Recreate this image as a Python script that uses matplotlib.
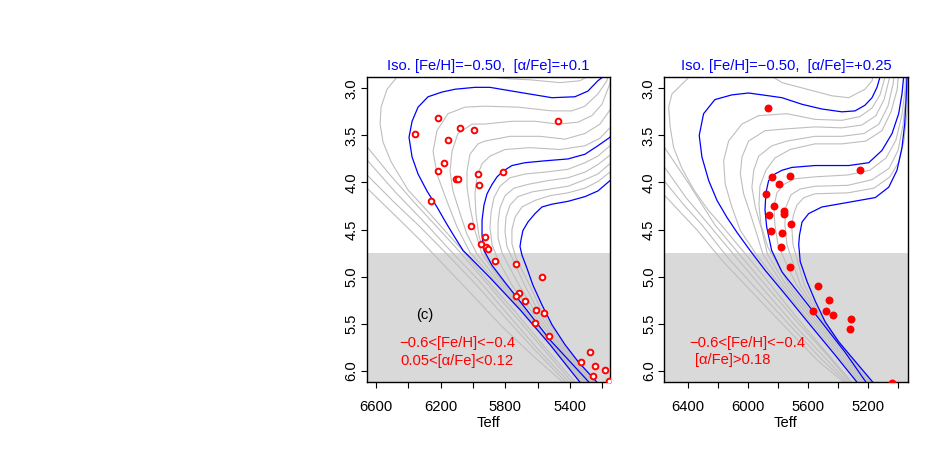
import matplotlib.pyplot as plt

plt.rcParams['font.family'] = ['Liberation Sans', 'DejaVu Sans']

# ---------------- LEFT PANEL: isochrones [alpha/Fe]=+0.1 ----------------
# blue isochrones (Teff, logg)
lb1_teff = [5183, 5196, 5227, 5289, 5369, 5511, 5722, 5895, 5988, 6111, 6192, 6278, 6340, 6377,
            6396, 6377, 6340, 6285, 6223, 6173, 6124, 6062, 5895, 5709, 5524, 5338, 5276]
lb1_logg = [2.75, 2.88, 2.92, 3.03, 3.09, 3.10, 3.04, 2.99, 2.99, 3.01, 3.04, 3.09, 3.20, 3.35,
            3.52, 3.73, 3.91, 4.09, 4.26, 4.41, 4.55, 4.72, 5.01, 5.35, 5.72, 6.12, 6.24]
lb2_teff = [5121, 5152, 5227, 5307, 5412, 5555, 5678, 5759, 5814, 5851, 5882, 5913, 5932, 5944,
            5944, 5932, 5882, 5802, 5678, 5524, 5400, 5282, 5227]
lb2_logg = [3.39, 3.52, 3.61, 3.70, 3.75, 3.77, 3.79, 3.82, 3.88, 3.94, 4.02, 4.12, 4.24, 4.40,
            4.56, 4.72, 4.88, 5.06, 5.33, 5.67, 5.90, 6.12, 6.24]
lb3_teff = [5121, 5152, 5227, 5307, 5412, 5511, 5573, 5616, 5660, 5691, 5703, 5709, 5697, 5666,
            5629, 5573, 5511, 5431, 5350, 5233, 5171]
lb3_logg = [3.96, 3.98, 4.09, 4.15, 4.20, 4.23, 4.26, 4.33, 4.42, 4.51, 4.61, 4.68, 4.77, 4.91,
            5.09, 5.30, 5.51, 5.72, 5.90, 6.12, 6.24]

# grey isochrones
lg_teff = [
    [5214, 5264, 5338, 5462, 5647, 5771, 5895, 6019, 6204, 6359, 6470, 6532, 6569, 6575, 6557,
     6507, 6402, 6278, 6180, 6080, 5926, 5740, 5555, 5369, 5307],
    [6730, 6656, 6513, 6359, 6235, 6111, 5944, 5759, 5573, 5388, 5326],
    [6761, 6656, 6482, 6285, 6142, 5969, 5784, 5598, 5406, 5344],
    [6792, 6656, 6482, 6340, 6173, 5988, 5802, 5616, 5425, 5363],
    [6823, 6656, 6482, 6328, 6173, 6006, 5820, 5629, 5443, 5381],
    [5152, 5165, 5171, 5227, 5307, 5388, 5511, 5722, 5926, 6049, 6155, 6223, 6247, 6223, 6161,
     6099, 6019, 5840, 5676, 5505, 5327, 5265],
    [5140, 5152, 5202, 5264, 5350, 5474, 5616, 5759, 5926, 6006, 6093, 6130, 6142, 6124, 6080,
     6037, 5975, 5825, 5668, 5498, 5315, 5253],
    [5121, 5152, 5214, 5307, 5431, 5585, 5771, 5926, 5969, 6019, 6037, 6037, 6019, 5988, 5944,
     5810, 5660, 5492, 5303, 5241],
    [5121, 5152, 5214, 5307, 5462, 5647, 5802, 5895, 5944, 5975, 5988, 5982, 5963, 5920, 5798,
     5652, 5486, 5292, 5230],
    [5121, 5152, 5227, 5307, 5412, 5555, 5678, 5771, 5833, 5870, 5888, 5895, 5882, 5845, 5759,
     5625, 5468, 5272, 5210],
    [5121, 5152, 5227, 5307, 5412, 5536, 5660, 5746, 5802, 5833, 5845, 5845, 5820, 5715, 5605,
     5455, 5262, 5200],
    [5121, 5152, 5227, 5307, 5412, 5524, 5635, 5722, 5771, 5796, 5802, 5790, 5680, 5585, 5443,
     5252, 5190],
    [5121, 5152, 5227, 5307, 5412, 5524, 5616, 5697, 5740, 5759, 5759, 5734, 5650, 5565, 5430,
     5242, 5180],
]
lg_logg = [
    [2.70, 2.85, 2.92, 2.94, 2.91, 2.90, 2.88, 2.81, 2.74, 2.76, 2.88, 3.01, 3.20, 3.38, 3.57,
     3.78, 4.08, 4.31, 4.50, 4.69, 5.01, 5.37, 5.75, 6.12, 6.24],
    [3.44, 3.62, 3.92, 4.22, 4.45, 4.68, 5.01, 5.38, 5.75, 6.12, 6.24],
    [3.55, 3.76, 4.10, 4.45, 4.72, 5.03, 5.40, 5.77, 6.12, 6.24],
    [3.65, 3.92, 4.22, 4.45, 4.74, 5.07, 5.43, 5.78, 6.12, 6.24],
    [3.76, 4.06, 4.35, 4.61, 4.89, 5.19, 5.53, 5.84, 6.12, 6.24],
    [2.72, 2.85, 2.92, 3.06, 3.19, 3.24, 3.24, 3.20, 3.19, 3.20, 3.27, 3.45, 3.67, 3.91, 4.20,
     4.47, 4.74, 5.09, 5.40, 5.75, 6.12, 6.24],
    [2.81, 2.95, 3.17, 3.29, 3.36, 3.38, 3.35, 3.35, 3.38, 3.38, 3.48, 3.67, 3.88, 4.09, 4.33,
     4.55, 4.76, 5.09, 5.40, 5.75, 6.12, 6.24],
    [3.13, 3.23, 3.38, 3.48, 3.54, 3.51, 3.51, 3.56, 3.59, 3.70, 3.88, 4.05, 4.26, 4.51, 4.76,
     5.09, 5.40, 5.75, 6.12, 6.24],
    [3.32, 3.42, 3.53, 3.61, 3.65, 3.63, 3.65, 3.72, 3.80, 3.94, 4.12, 4.33, 4.57, 4.79, 5.09,
     5.40, 5.75, 6.12, 6.24],
    [3.50, 3.61, 3.72, 3.79, 3.86, 3.89, 3.91, 3.95, 4.04, 4.16, 4.31, 4.48, 4.66, 4.82, 5.09,
     5.40, 5.75, 6.12, 6.24],
    [3.61, 3.71, 3.81, 3.89, 3.95, 3.98, 4.02, 4.06, 4.14, 4.27, 4.42, 4.59, 4.75, 5.09, 5.40,
     5.75, 6.12, 6.24],
    [3.71, 3.80, 3.91, 3.97, 4.04, 4.07, 4.10, 4.15, 4.24, 4.37, 4.52, 4.68, 5.09, 5.40, 5.75,
     6.12, 6.24],
    [3.82, 3.89, 3.99, 4.06, 4.11, 4.14, 4.19, 4.26, 4.37, 4.50, 4.65, 4.80, 5.09, 5.40, 5.75,
     6.12, 6.24],
]

# stars, left panel (open circles)
left_star_teff = [6357, 6216, 6080, 5991, 5472, 6155, 6179, 6218, 6107, 6093, 5970, 5814, 5962,
                  6258, 6012, 5926, 5950, 5920, 5904, 5866, 5736, 5572, 5717, 5735, 5678, 5612,
                  5562, 5618, 5528, 5276, 5329, 5244, 5256, 5185, 5160]
left_star_logg = [3.49, 3.32, 3.42, 3.44, 3.35, 3.55, 3.79, 3.88, 3.96, 3.96, 3.91, 3.89, 4.03,
                  4.20, 4.46, 4.58, 4.65, 4.69, 4.71, 4.83, 4.87, 5.00, 5.17, 5.20, 5.26, 5.35,
                  5.39, 5.49, 5.63, 5.80, 5.91, 5.95, 6.05, 5.99, 6.11]

# ---------------- RIGHT PANEL: isochrones [alpha/Fe]=+0.25 ----------------
rb1_teff = [5089, 5122, 5142, 5175, 5222, 5288, 5375, 5508, 5640, 5773, 5860, 5995, 6106, 6219,
            6294, 6323, 6305, 6260, 6205, 6139, 6072, 5986, 5886, 5740, 5587, 5421, 5275, 5209]
rb1_logg = [2.70, 2.88, 2.99, 3.10, 3.18, 3.24, 3.25, 3.22, 3.17, 3.10, 3.08, 3.05, 3.07, 3.12,
            3.27, 3.50, 3.73, 3.98, 4.19, 4.37, 4.53, 4.72, 4.93, 5.21, 5.51, 5.83, 6.12, 6.24]
rb2_teff = [4956, 4965, 4976, 4998, 5042, 5109, 5197, 5330, 5554, 5707, 5773, 5820, 5862, 5880,
            5886, 5875, 5842, 5773, 5654, 5521, 5355, 5215, 5149]
rb2_logg = [2.70, 2.88, 3.06, 3.27, 3.48, 3.66, 3.79, 3.82, 3.82, 3.84, 3.87, 3.91, 3.98, 4.11,
            4.29, 4.47, 4.72, 4.95, 5.19, 5.46, 5.80, 6.12, 6.24]
rb3_teff = [4936, 4942, 4949, 4958, 4976, 5009, 5064, 5153, 5330, 5508, 5596, 5640, 5657, 5662,
            5652, 5607, 5552, 5486, 5397, 5286, 5175, 5109]
rb3_logg = [2.70, 2.85, 3.13, 3.38, 3.63, 3.87, 4.05, 4.16, 4.21, 4.26, 4.33, 4.42, 4.56, 4.66,
            4.84, 5.05, 5.26, 5.48, 5.69, 5.90, 6.11, 6.24]

rg_teff = [
    [5150, 5175, 5222, 5330, 5441, 5773, 5853, 5986, 6185, 6383, 6504, 6526, 6516, 6493, 6438,
     6358, 6265, 6172, 6052, 5886, 5687, 5481, 5308, 5242],
    [6651, 6557, 6385, 6219, 6052, 5866, 5667, 5468, 5321, 5255],
    [6684, 6557, 6411, 6258, 6086, 5893, 5687, 5488, 5335, 5268],
    [6717, 6557, 6424, 6305, 6132, 5920, 5707, 5508, 5348, 5282],
    [6750, 6557, 6440, 6340, 6170, 5950, 5730, 5530, 5362, 5296],
    [5069, 5089, 5122, 5175, 5255, 5375, 5554, 5740, 5928, 6039, 6128, 6161, 6150, 6106, 6050,
     5945, 5785, 5600, 5420, 5263, 5200],
    [5042, 5062, 5095, 5149, 5242, 5375, 5554, 5740, 5886, 5995, 6039, 6050, 6028, 5984, 5940,
     5900, 5765, 5580, 5403, 5251, 5188],
    [5016, 5036, 5069, 5129, 5228, 5375, 5554, 5740, 5840, 5928, 5961, 5973, 5951, 5906, 5870,
     5745, 5562, 5387, 5239, 5176],
    [4989, 5009, 5049, 5109, 5215, 5375, 5554, 5720, 5820, 5880, 5920, 5926, 5913, 5866, 5725,
     5545, 5371, 5227, 5164],
    [4949, 4956, 4976, 5016, 5082, 5189, 5335, 5554, 5687, 5760, 5807, 5827, 5820, 5800, 5734,
     5675, 5518, 5351, 5204, 5140],
    [4942, 4949, 4969, 5002, 5062, 5175, 5335, 5554, 5654, 5713, 5747, 5754, 5740, 5695, 5650,
     5510, 5347, 5193, 5128],
    [4936, 4942, 4962, 4996, 5056, 5162, 5335, 5554, 5627, 5674, 5700, 5707, 5700, 5665, 5625,
     5502, 5343, 5182, 5116],
]
rg_logg = [
    [2.75, 2.92, 3.01, 3.10, 3.08, 2.94, 2.86, 2.75, 2.70, 2.87, 3.06, 3.20, 3.41, 3.63, 3.85,
     4.08, 4.29, 4.46, 4.69, 5.01, 5.41, 5.80, 6.12, 6.24],
    [3.39, 3.62, 4.03, 4.45, 4.77, 5.12, 5.49, 5.84, 6.12, 6.24],
    [3.55, 3.83, 4.16, 4.45, 4.78, 5.14, 5.52, 5.86, 6.12, 6.24],
    [3.65, 3.98, 4.24, 4.45, 4.80, 5.17, 5.54, 5.88, 6.12, 6.24],
    [3.80, 4.13, 4.33, 4.50, 4.83, 5.20, 5.57, 5.90, 6.12, 6.24],
    [2.70, 2.88, 3.07, 3.21, 3.30, 3.34, 3.33, 3.27, 3.29, 3.38, 3.56, 3.77, 4.02, 4.26, 4.51,
     4.76, 5.09, 5.45, 5.80, 6.12, 6.24],
    [2.70, 2.91, 3.12, 3.29, 3.39, 3.42, 3.41, 3.43, 3.45, 3.56, 3.73, 3.91, 4.12, 4.33, 4.55,
     4.76, 5.09, 5.45, 5.80, 6.12, 6.24],
    [2.70, 2.96, 3.19, 3.38, 3.48, 3.51, 3.51, 3.56, 3.61, 3.72, 3.87, 4.05, 4.26, 4.51, 4.76,
     5.09, 5.45, 5.80, 6.12, 6.24],
    [2.70, 3.02, 3.25, 3.45, 3.56, 3.59, 3.59, 3.65, 3.74, 3.87, 4.04, 4.24, 4.45, 4.69, 5.09,
     5.45, 5.80, 6.12, 6.24],
    [2.70, 3.02, 3.28, 3.55, 3.74, 3.87, 3.92, 3.94, 3.96, 4.02, 4.11, 4.26, 4.45, 4.66, 4.90,
     5.09, 5.45, 5.80, 6.12, 6.24],
    [2.70, 3.07, 3.39, 3.66, 3.85, 3.97, 4.03, 4.04, 4.07, 4.13, 4.26, 4.45, 4.66, 4.88, 5.09,
     5.45, 5.80, 6.12, 6.24],
    [2.86, 3.23, 3.55, 3.78, 3.94, 4.06, 4.11, 4.12, 4.16, 4.24, 4.36, 4.50, 4.66, 4.86, 5.09,
     5.45, 5.80, 6.12, 6.24],
]

# stars, right panel (filled circles)
right_star_teff = [5866, 5253, 5838, 5717, 5793, 5878, 5827, 5860, 5763, 5762, 5712, 5848, 5775,
                   5780, 5718, 5534, 5461, 5566, 5480, 5431, 5312, 5320, 5042]
right_star_logg = [3.21, 3.87, 3.94, 3.93, 4.02, 4.12, 4.25, 4.35, 4.30, 4.33, 4.44, 4.51, 4.54,
                   4.68, 4.90, 5.10, 5.25, 5.36, 5.36, 5.41, 5.45, 5.56, 6.13]

left_title = 'Iso. [Fe/H]=\u22120.50,  [\u03b1/Fe]=+0.1'
right_title = 'Iso. [Fe/H]=\u22120.50,  [\u03b1/Fe]=+0.25'
left_ticks = [6600, 6400, 6200, 6000, 5800, 5600, 5400, 5200]
left_ticklabels = ['6600', '', '6200', '', '5800', '', '5400', '']
right_ticks = [6400, 6200, 6000, 5800, 5600, 5400, 5200, 5000]
right_ticklabels = ['6400', '', '6000', '', '5600', '', '5200', '']
y_ticks = [3.0, 3.5, 4.0, 4.5, 5.0, 5.5, 6.0]

FS = 10.6
fig = plt.figure(figsize=(9.26, 4.63), dpi=100)
axL = fig.add_axes([367 / 926, 1 - 382.2 / 463, 243 / 926, 305.5 / 463])
axR = fig.add_axes([664.3 / 926, 1 - 382.2 / 463, 243.4 / 926, 305.5 / 463])


def panel(ax, gt, gg, blues, xlim, ticks, labels, title):
    ax.axhspan(4.75, 6.5, color='#d9d9d9', lw=0, zorder=0)
    for t, g in zip(gt, gg):
        ax.plot(t, g, color='#bebebe', lw=0.8, zorder=1)
    for t, g in blues:
        ax.plot(t, g, color='blue', lw=0.9, zorder=2)
    ax.set_xlim(xlim)
    ax.set_ylim(6.12, 2.877)
    ax.set_xticks(ticks)
    ax.set_xticklabels(labels)
    ax.set_yticks(y_ticks)
    ax.set_yticklabels(['%.1f' % v for v in y_ticks], rotation=90, va='center')
    ax.tick_params(direction='out', length=4.5, width=0.8, labelsize=FS)
    ax.tick_params(axis='x', pad=8.5)
    ax.tick_params(axis='y', pad=1.5)
    ax.set_xlabel('Teff', fontsize=FS, labelpad=1)
    ax.set_title(title, color='blue', fontsize=FS, pad=5)
    for s in ax.spines.values():
        s.set_linewidth(1.0)


panel(axL, lg_teff, lg_logg,
      [(lb1_teff, lb1_logg), (lb2_teff, lb2_logg), (lb3_teff, lb3_logg)],
      (6656, 5152), left_ticks, left_ticklabels, left_title)
panel(axR, rg_teff, rg_logg,
      [(rb1_teff, rb1_logg), (rb2_teff, rb2_logg), (rb3_teff, rb3_logg)],
      (6555, 4938), right_ticks, right_ticklabels, right_title)

axL.plot(left_star_teff, left_star_logg, 'o', ms=4.1, mfc='white', mec='red', mew=1.4, zorder=3)
axR.plot(right_star_teff, right_star_logg, 'o', ms=5.7, mfc='red', mec='red', mew=0, zorder=3)

axL.text(6300, 5.41, '(c)', fontsize=FS, ha='center', va='center', zorder=4)
axL.text(6100, 5.70, '\u22120.6<[Fe/H]<\u22120.4', color='red', fontsize=FS,
         ha='center', va='center', zorder=4)
axL.text(6100, 5.89, '0.05<[\u03b1/Fe]<0.12', color='red', fontsize=FS,
         ha='center', va='center', zorder=4)
axR.text(6001, 5.70, '\u22120.6<[Fe/H]<\u22120.4', color='red', fontsize=FS,
         ha='center', va='center', zorder=4)
axR.text(6099, 5.88, '[\u03b1/Fe]>0.18', color='red', fontsize=FS,
         ha='center', va='center', zorder=4)

fig.savefig('out.png', dpi=100)
